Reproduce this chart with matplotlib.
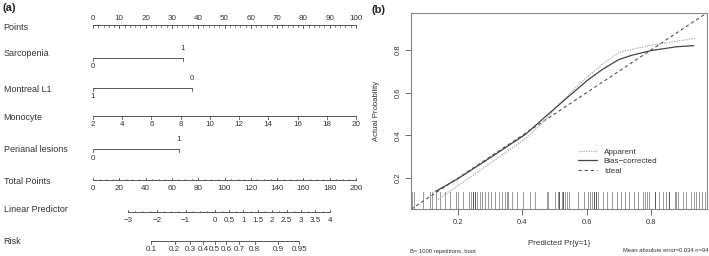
import numpy as np
import matplotlib
matplotlib.use("Agg")
import matplotlib.pyplot as plt
from matplotlib.lines import Line2D

plt.rcParams['font.family'] = ['Liberation Sans', 'DejaVu Sans']

# ---------------- data: nomogram ----------------
points_ticks = list(range(0, 101, 10))
sarc_levels = ["0", "1"]
sarc_points = [0.0, 34.2]
montreal_levels = ["1", "0"]
montreal_points = [0.0, 37.6]
monocyte_ticks = list(range(2, 21, 2))
monocyte_range = [2, 20]          # maps to 0..100 points
perianal_levels = ["0", "1"]
perianal_points = [0.0, 32.7]
total_ticks = list(range(0, 201, 20))
lp_at_tp0 = -4.212
lp_per_tp = 0.04558
lp_ticks = [-3, -2, -1, 0, 0.5, 1, 1.5, 2, 2.5, 3, 3.5, 4]
lp_labels = ["\u22123", "\u22122", "\u22121", "0", "0.5", "1", "1.5", "2", "2.5", "3", "3.5", "4"]
risk_ticks = [0.1, 0.2, 0.3, 0.4, 0.5, 0.6, 0.7, 0.8, 0.9, 0.95]
risk_labels = ["0.1", "0.2", "0.3", "0.4", "0.5", "0.6", "0.7", "0.8", "0.9", "0.95"]

# ---------------- data: calibration ----------------
app_x = [0.138, 0.205, 0.308, 0.41, 0.46, 0.50, 0.55, 0.60, 0.65, 0.70, 0.75, 0.803, 0.937]
app_y = [0.100, 0.169, 0.277, 0.385, 0.455, 0.522, 0.600, 0.672, 0.735, 0.788, 0.806, 0.823, 0.854]
bias_x = [0.131, 0.20, 0.308, 0.41, 0.458, 0.50, 0.55, 0.60, 0.65, 0.70, 0.74, 0.80, 0.88, 0.932]
bias_y = [0.138, 0.197, 0.303, 0.405, 0.469, 0.525, 0.590, 0.655, 0.710, 0.755, 0.775, 0.797, 0.815, 0.820]
rug_pred = [0.057, 0.064, 0.091, 0.113, 0.119, 0.132, 0.144, 0.160, 0.175, 0.194,
            0.200, 0.216, 0.234, 0.240, 0.247, 0.253, 0.259, 0.268, 0.274, 0.284,
            0.293, 0.302, 0.315, 0.327, 0.336, 0.346, 0.352, 0.355, 0.367, 0.383,
            0.402, 0.423, 0.439, 0.476, 0.479, 0.501, 0.510, 0.513, 0.522, 0.526,
            0.532, 0.538, 0.544, 0.572, 0.591, 0.603, 0.609, 0.616, 0.622, 0.628,
            0.634, 0.650, 0.662, 0.680, 0.693, 0.708, 0.718, 0.733, 0.746, 0.758,
            0.774, 0.780, 0.786, 0.795, 0.811, 0.826, 0.836, 0.848, 0.857, 0.873,
            0.879, 0.885, 0.898, 0.910, 0.925, 0.935, 0.941, 0.950, 0.960, 0.969]
rug_dark = [0.247, 0.253, 0.513, 0.526, 0.622, 0.628, 0.811, 0.857]
ticks_x = [0.2, 0.4, 0.6, 0.8]
ticks_y = [0.2, 0.4, 0.6, 0.8]

W, H = 709, 256
fig = plt.figure(figsize=(W / 100, H / 100), dpi=100)

LC = '#555555'
TC = '#333333'
# ---------------- left panel ----------------
axL = fig.add_axes([0, 0, 360 / W, 1])
axL.axis('off')
PX0, PXS = 93, 2.63
axL.set_xlim(-PX0 / PXS, (360 - PX0) / PXS)
axL.set_ylim(H, 0)

lab_fs = 6.5
tk_fs = 5.8
lab_x = -PX0 / PXS + 3.5 / PXS

def row_label(y, s):
    axL.text(lab_x, y, s, fontsize=lab_fs, color=TC, va='center', ha='left')

def scale(y, pos, labels, tick_dir, lab_side, minor=None, tl=3.0):
    axL.plot([min(pos), max(pos)], [y, y], color=LC, lw=0.7)
    if minor is not None:
        for m in minor:
            axL.plot([m, m], [y, y + tick_dir * tl * 0.6], color=LC, lw=0.5)
    for p, l in zip(pos, labels):
        axL.plot([p, p], [y, y + tick_dir * tl], color=LC, lw=0.6)
        if lab_side < 0:
            axL.text(p, y - 6, l, fontsize=tk_fs, color=TC, ha='center', va='center')
        else:
            axL.text(p, y + 8.5, l, fontsize=tk_fs, color=TC, ha='center', va='center')

axL.text(lab_x - 1.0 / PXS, 8, "(a)", fontsize=8, fontweight='bold', color='#222222', va='center')

# Points
row_label(27, "Points")
scale(25, points_ticks, [str(t) for t in points_ticks], 1, -1,
      minor=list(range(0, 101, 2)), tl=2.5)

def cat_row(y, ylab, name, levels, pts):
    row_label(ylab, name)
    axL.plot([min(pts), max(pts)], [y, y], color=LC, lw=0.7)
    for p in pts:
        axL.plot([p, p], [y, y + 3], color=LC, lw=0.6)
    # first level below left end, second level above right end
    axL.text(pts[0], y + 9, levels[0], fontsize=tk_fs, color=TC, ha='center', va='center')
    axL.text(pts[1], y - 9.5, levels[1], fontsize=tk_fs, color=TC, ha='center', va='center')

cat_row(58, 54, "Sarcopenia", sarc_levels, sarc_points)
cat_row(88, 90, "Montreal L1", montreal_levels, montreal_points)

# Monocyte
row_label(117, "Monocyte")
mono_pos = [(v - monocyte_range[0]) / (monocyte_range[1] - monocyte_range[0]) * 100 for v in monocyte_ticks]
scale(116, mono_pos, [str(v) for v in monocyte_ticks], 1, 1, tl=3.0)

cat_row(149, 150, "Perianal lesions", perianal_levels, perianal_points)

# Total points
row_label(181, "Total Points")
tp_pos = [t * 0.5 for t in total_ticks]
scale(180, tp_pos, [str(t) for t in total_ticks], -1, 1,
      minor=[t * 0.5 for t in range(0, 201, 5)], tl=2.5)

# Linear predictor
row_label(210, "Linear Predictor")
lp_pos = [((v - lp_at_tp0) / lp_per_tp) * 0.5 for v in lp_ticks]
lp_minor = [((v - lp_at_tp0) / lp_per_tp) * 0.5 for v in np.arange(-3, 4.01, 0.25)]
scale(212, lp_pos, lp_labels, -1, 1, minor=lp_minor, tl=2.5)

# Risk
row_label(242, "Risk")
risk_pos = [((np.log(r / (1 - r)) - lp_at_tp0) / lp_per_tp) * 0.5 for r in risk_ticks]
scale(241, risk_pos, risk_labels, 1, 1, tl=3.0)

# ---------------- right panel ----------------
axR = fig.add_axes([411 / W, 1 - 209 / H, 296 / W, 196 / H])
lo, hi = 0.054, 0.974
axR.set_xlim(lo, hi)
axR.set_ylim(0.055, 0.973)
for s in axR.spines.values():
    s.set_color('#888888')
    s.set_linewidth(0.8)

rug_top = 0.135
for r in rug_pred:
    c = '#555555' if r in rug_dark else '#999999'
    axR.plot([r, r], [0.055, rug_top], color=c, lw=0.7)

axR.plot([lo, hi], [lo, hi], color='#555555', lw=0.8, ls=(0, (3, 2.5)))
axR.plot(app_x, app_y, color='#aaaaaa', lw=0.9, ls=(0, (1, 1)))
axR.plot(bias_x, bias_y, color='#444444', lw=0.9)

axR.set_xticks(ticks_x)
axR.set_xticklabels([f"{t:.1f}" for t in ticks_x])
axR.set_yticks(ticks_y)
axR.set_yticklabels([f"{t:.1f}" for t in ticks_y], rotation=90, va='center')
axR.tick_params(axis='both', labelsize=5.5, colors='#555555', labelcolor=TC,
                length=4, width=0.6, pad=3)
axR.set_xlabel("Predicted Pr{y=1}", fontsize=5.8, color=TC, labelpad=10)
axR.set_ylabel("Actual Probability", fontsize=5.6, color=TC, labelpad=10)

handles = [Line2D([], [], color='#aaaaaa', lw=0.9, ls=(0, (1, 1))),
           Line2D([], [], color='#444444', lw=0.9),
           Line2D([], [], color='#555555', lw=0.8, ls=(0, (3, 2.5)))]
axR.legend(handles, ["Apparent", "Bias\u2212corrected", "Ideal"], loc='upper left',
           bbox_to_anchor=((578 - 411) / 296, (209 - 148) / 196), frameon=False,
           fontsize=5.8, handlelength=2.4, handletextpad=0.8, borderpad=0,
           borderaxespad=0, labelspacing=0.25, labelcolor=TC)

fig.text(372 / W, 1 - 10 / H, "(b)", fontsize=8, fontweight='bold', color='#222222', va='center')
fig.text(410 / W, 1 - 251 / H, "B= 1000 repetitions, boot", fontsize=4.2, color=TC, va='center')
fig.text(708 / W, 1 - 251 / H, "Mean absolute error=0.034 n=94", fontsize=4.2, color=TC,
         va='center', ha='right')

fig.savefig("out.png", dpi=100)
